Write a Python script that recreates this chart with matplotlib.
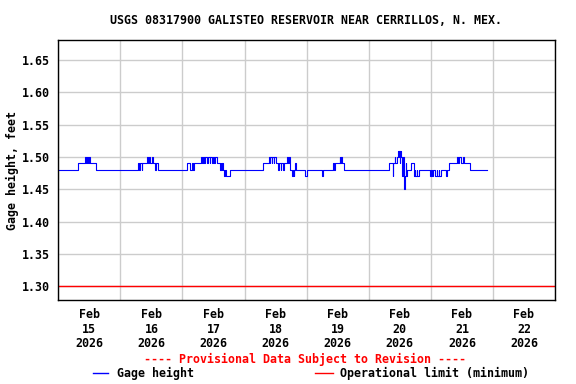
import matplotlib
matplotlib.use("Agg")
import matplotlib.pyplot as plt
import matplotlib.dates as mdates
from matplotlib.lines import Line2D
import pandas as pd

# ---- datos (escalones, valor vigente desde cada hora) ----
TIMES = [
    "2026-02-15 00:00", "2026-02-15 07:45", "2026-02-15 10:15", "2026-02-15 10:45",
    "2026-02-15 11:00", "2026-02-15 11:30", "2026-02-15 12:00", "2026-02-15 12:15",
    "2026-02-15 14:30",
    "2026-02-16 06:45", "2026-02-16 07:15", "2026-02-16 07:45", "2026-02-16 08:15",
    "2026-02-16 08:30", "2026-02-16 10:15", "2026-02-16 10:45", "2026-02-16 11:00",
    "2026-02-16 11:30", "2026-02-16 12:15", "2026-02-16 12:45", "2026-02-16 13:30",
    "2026-02-16 13:45", "2026-02-16 14:30",
    "2026-02-17 01:45", "2026-02-17 03:00", "2026-02-17 03:30", "2026-02-17 04:00",
    "2026-02-17 04:30", "2026-02-17 07:00", "2026-02-17 07:30", "2026-02-17 08:00",
    "2026-02-17 08:15", "2026-02-17 08:45", "2026-02-17 09:30", "2026-02-17 10:00",
    "2026-02-17 10:30", "2026-02-17 10:45", "2026-02-17 11:15", "2026-02-17 11:45",
    "2026-02-17 12:15", "2026-02-17 12:45", "2026-02-17 13:15", "2026-02-17 14:30",
    "2026-02-17 14:45", "2026-02-17 15:00", "2026-02-17 15:15", "2026-02-17 15:30",
    "2026-02-17 16:00", "2026-02-17 16:30", "2026-02-17 16:45", "2026-02-17 18:15",
    "2026-02-18 07:15", "2026-02-18 09:30", "2026-02-18 09:45", "2026-02-18 10:00",
    "2026-02-18 10:30", "2026-02-18 10:45", "2026-02-18 11:15", "2026-02-18 11:30",
    "2026-02-18 12:15", "2026-02-18 13:00", "2026-02-18 13:15", "2026-02-18 14:00",
    "2026-02-18 14:15", "2026-02-18 15:00", "2026-02-18 15:15", "2026-02-18 16:15",
    "2026-02-18 16:45", "2026-02-18 17:00", "2026-02-18 17:30", "2026-02-18 18:15",
    "2026-02-18 18:45", "2026-02-18 19:00", "2026-02-18 19:15", "2026-02-18 19:30",
    "2026-02-18 19:45", "2026-02-18 23:15",
    "2026-02-19 00:00", "2026-02-19 05:45", "2026-02-19 06:15", "2026-02-19 10:15",
    "2026-02-19 10:45", "2026-02-19 11:00", "2026-02-19 12:45", "2026-02-19 13:00",
    "2026-02-19 13:15", "2026-02-19 13:30", "2026-02-19 14:15",
    "2026-02-20 08:00", "2026-02-20 09:15", "2026-02-20 09:30", "2026-02-20 10:00",
    "2026-02-20 10:15", "2026-02-20 10:45", "2026-02-20 11:15", "2026-02-20 11:30",
    "2026-02-20 11:45", "2026-02-20 12:00", "2026-02-20 12:15", "2026-02-20 12:30",
    "2026-02-20 12:45", "2026-02-20 13:00", "2026-02-20 13:15", "2026-02-20 13:45",
    "2026-02-20 14:00", "2026-02-20 14:15", "2026-02-20 14:30", "2026-02-20 14:45",
    "2026-02-20 16:15", "2026-02-20 17:30", "2026-02-20 17:45", "2026-02-20 18:00",
    "2026-02-20 18:30", "2026-02-20 18:45", "2026-02-20 19:15", "2026-02-20 23:45",
    "2026-02-21 00:15", "2026-02-21 00:30", "2026-02-21 01:00", "2026-02-21 01:45",
    "2026-02-21 02:15", "2026-02-21 02:30", "2026-02-21 03:00", "2026-02-21 03:15",
    "2026-02-21 03:45", "2026-02-21 05:45", "2026-02-21 06:15", "2026-02-21 07:00",
    "2026-02-21 10:15", "2026-02-21 10:30", "2026-02-21 11:00", "2026-02-21 11:30",
    "2026-02-21 12:15", "2026-02-21 12:45", "2026-02-21 15:00", "2026-02-21 21:45",
]
GAGE = [
    1.48, 1.49, 1.50, 1.49, 1.50, 1.49, 1.50, 1.49, 1.48,
    1.49, 1.48, 1.49, 1.48, 1.49, 1.50, 1.49, 1.50, 1.49, 1.50, 1.49, 1.48, 1.49, 1.48,
    1.49, 1.48, 1.49, 1.48, 1.49, 1.50, 1.49, 1.50, 1.49, 1.50, 1.49, 1.50, 1.49, 1.50,
    1.49, 1.50, 1.49, 1.50, 1.49, 1.48, 1.49, 1.48, 1.49, 1.48, 1.47, 1.48, 1.47, 1.48,
    1.49, 1.50, 1.49, 1.50, 1.49, 1.50, 1.49, 1.50, 1.49, 1.48, 1.49, 1.48, 1.49, 1.48,
    1.49, 1.50, 1.49, 1.50, 1.48, 1.47, 1.48, 1.47, 1.48, 1.49, 1.48, 1.47,
    1.48, 1.47, 1.48, 1.49, 1.48, 1.49, 1.50, 1.49, 1.50, 1.49, 1.48,
    1.49, 1.47, 1.49, 1.50, 1.49, 1.50, 1.51, 1.50, 1.51, 1.49, 1.51, 1.50,
    1.49, 1.47, 1.50, 1.45, 1.47, 1.49, 1.47, 1.48, 1.49, 1.47, 1.48, 1.47,
    1.48, 1.47, 1.48, 1.47,
    1.48, 1.47, 1.48, 1.47, 1.48, 1.47, 1.48, 1.47, 1.48, 1.47, 1.48, 1.49,
    1.50, 1.49, 1.50, 1.49, 1.50, 1.49, 1.48, 1.48,
]
OP_LIMIT = 1.30
YTICKS = [1.30, 1.35, 1.40, 1.45, 1.50, 1.55, 1.60, 1.65]
X_START, X_END = "2026-02-15 00:00", "2026-02-23 00:00"
TITLE = "USGS 08317900 GALISTEO RESERVOIR NEAR CERRILLOS, N. MEX."

FONT = dict(family="DejaVu Sans Mono", weight="bold", size=8.4)

t = pd.to_datetime(TIMES)

fig = plt.figure(figsize=(5.76, 3.84), dpi=100)
ax = fig.add_axes([0.1012, 0.2187, 0.8624, 0.6771])

ax.plot(t, GAGE, color="#0000ff", lw=0.8, drawstyle="steps-post")
ax.axhline(OP_LIMIT, color="#ff0000", lw=1)

ax.set_xlim(pd.Timestamp(X_START), pd.Timestamp(X_END))
ax.set_ylim(1.2789, 1.6808)
ax.set_yticks(YTICKS)
ax.set_yticklabels(["%.2f" % v for v in YTICKS], **FONT)

# grilla a medianoche, etiquetas al mediodia
ax.xaxis.set_major_locator(mdates.DayLocator())
ax.xaxis.set_major_formatter(plt.NullFormatter())
ax.xaxis.set_minor_locator(mdates.HourLocator(byhour=12))
ax.xaxis.set_minor_formatter(mdates.DateFormatter("%b\n%d\n%Y"))
ax.tick_params(axis="x", which="both", length=0, pad=6)
ax.tick_params(axis="y", length=0, pad=6)
for lab in ax.get_xminorticklabels():
    lab.set_fontproperties(matplotlib.font_manager.FontProperties(**FONT))
    lab.set_linespacing(1.15)

ax.grid(True, which="major", color="#cccccc", lw=1)
ax.set_axisbelow(True)
for s in ax.spines.values():
    s.set_color("black")
    s.set_linewidth(1)

ax.set_ylabel("Gage height, feet", labelpad=2, **FONT)
fig.text(0.532, 1 - 20 / 384, TITLE, ha="center", va="center", **FONT)
fig.text(0.53, 1 - 359 / 384, "---- Provisional Data Subject to Revision ----",
         ha="center", va="center", color="#ff0000", **FONT)

# leyenda manual
ly = 1 - 373 / 384
fig.add_artist(Line2D([93 / 576, 108 / 576], [ly, ly], color="#0000ff", lw=1,
                      transform=fig.transFigure))
fig.text(117 / 576, ly, "Gage height", ha="left", va="center", **FONT)
fig.add_artist(Line2D([315 / 576, 333 / 576], [ly, ly], color="#ff0000", lw=1,
                      transform=fig.transFigure))
fig.text(340 / 576, ly, "Operational limit (minimum)", ha="left", va="center", **FONT)

fig.savefig("out.png", dpi=100)
